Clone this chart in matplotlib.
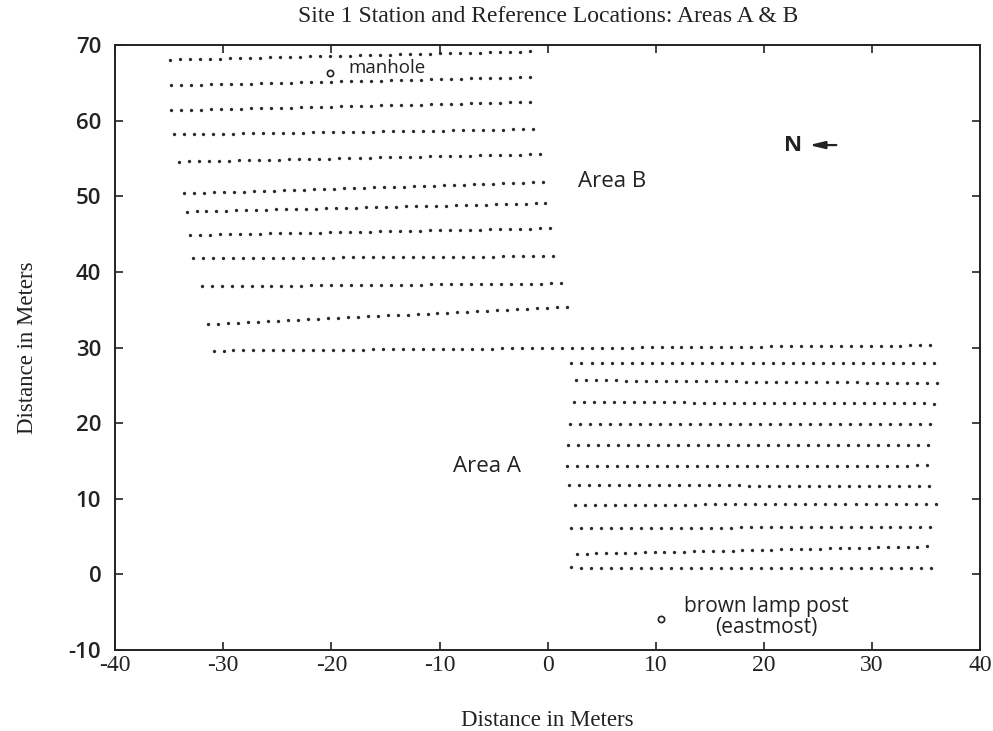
import numpy as np
import matplotlib
matplotlib.use("Agg")
import matplotlib.pyplot as plt

# ---- data: transect rows (start x, start y, end x, end y, number of stations) ----
row_x0 = [-34.9, -34.8, -34.8, -34.6, -34.1, -33.6, -33.4, -33.1, -32.8, -32.0, -31.4, -30.9,
          2.6, 2.4, 2.1, 1.9, 1.8, 2.0, 2.5, 2.2, 2.7, 2.2]
row_y0 = [68.1, 64.7, 61.4, 58.2, 54.6, 50.4, 48.0, 44.9, 41.8, 38.1, 33.1, 29.6,
          25.7, 22.8, 19.9, 17.1, 14.3, 11.8, 9.2, 6.1, 2.7, 0.9]
row_x1 = [-1.6, -1.6, -1.6, -1.4, -0.7, -0.4, -0.2, 0.2, 0.5, 1.2, 1.8, 35.4,
          36.0, 35.7, 35.4, 35.2, 35.1, 35.3, 35.9, 35.4, 35.1, 35.5]
row_y1 = [69.2, 65.8, 62.5, 58.9, 55.6, 51.9, 49.1, 45.8, 42.1, 38.5, 35.4, 30.3,
          25.3, 22.6, 19.9, 17.1, 14.4, 11.7, 9.3, 6.3, 3.7, 0.8]
row_n = [37, 37, 37, 37, 37, 37, 37, 37, 37, 37, 37, 73,
         37, 37, 37, 37, 37, 37, 37, 37, 37, 37]
# the Area A row just below the long row
rowA1 = dict(x0=2.2, y0=28.0, x1=35.7, y1=27.9, n=37)

manhole_xy = (-20.1, 66.4)
lamp_xy = (10.5, -5.9)

xticks = [-40, -30, -20, -10, 0, 10, 20, 30, 40]
yticks = [-10, 0, 10, 20, 30, 40, 50, 60, 70]

fig = plt.figure(figsize=(9.93, 7.31), dpi=100)
ax = fig.add_axes([0.116, 0.111, 0.871, 0.827])

serif = "Liberation Serif"
sans = "Open Sans"

xs0 = row_x0[:12] + [rowA1["x0"]] + row_x0[12:]
ys0 = row_y0[:12] + [rowA1["y0"]] + row_y0[12:]
xs1 = row_x1[:12] + [rowA1["x1"]] + row_x1[12:]
ys1 = row_y1[:12] + [rowA1["y1"]] + row_y1[12:]
ns = row_n[:12] + [rowA1["n"]] + row_n[12:]

for x0, y0, x1, y1, n in zip(xs0, ys0, xs1, ys1, ns):
    ax.plot(np.linspace(x0, x1, n), np.linspace(y0, y1, n), linestyle="none",
            marker="o", markersize=2.4, markeredgewidth=0, color="#2a2a2a")

ax.plot(*manhole_xy, marker="o", markersize=4.5, markerfacecolor="white",
        markeredgecolor="#222222", markeredgewidth=1.2, linestyle="none")
ax.plot(*lamp_xy, marker="o", markersize=4.5, markerfacecolor="white",
        markeredgecolor="#222222", markeredgewidth=1.2, linestyle="none")

ax.text(-18.4, 67.0, "manhole", family=sans, fontsize=13.5, color="#222222",
        ha="left", va="center")
ax.text(20.2, -5.6, "brown lamp post\n(eastmost)", family=sans, fontsize=15,
        color="#222222", ha="center", va="center", linespacing=1.0)
ax.text(6.0, 52.0, "Area B", family=sans, fontsize=16, color="#222222",
        ha="center", va="center")
ax.text(-5.6, 14.2, "Area A", family=sans, fontsize=16, color="#222222",
        ha="center", va="center")
ax.text(22.7, 56.8, "N", family=sans, fontsize=16, fontweight="bold",
        color="#222222", ha="center", va="center")
ax.annotate("", xy=(24.2, 56.8), xytext=(26.7, 56.8),
            arrowprops=dict(arrowstyle="-|>,head_length=0.9,head_width=0.22",
                            lw=1.6, color="#222222", shrinkA=0, shrinkB=0))

ax.set_xlim(-40, 40)
ax.set_ylim(-10, 70)
ax.set_xticks(xticks)
ax.set_yticks(yticks)
ax.set_xticklabels([str(v) for v in xticks], family=serif, fontsize=17)
ax.set_yticklabels([str(v) for v in yticks], family=sans, fontsize=16,
                   fontweight="semibold")
ax.tick_params(direction="in", top=True, right=True, length=6, width=1.2,
               colors="#222222")
ax.tick_params(axis="x", pad=4)
ax.tick_params(axis="y", pad=10)
for s in ax.spines.values():
    s.set_linewidth(1.4)
    s.set_color("#222222")

ax.set_title("Site 1 Station and Reference Locations: Areas A & B",
             family=serif, fontsize=17, pad=17, color="#222222")
ax.set_xlabel("Distance in Meters", family=serif, fontsize=16.5, labelpad=24,
              color="#222222")
ax.set_ylabel("Distance in Meters", family=serif, fontsize=16.5, labelpad=22,
              color="#222222")

fig.savefig("out.png", dpi=100)
